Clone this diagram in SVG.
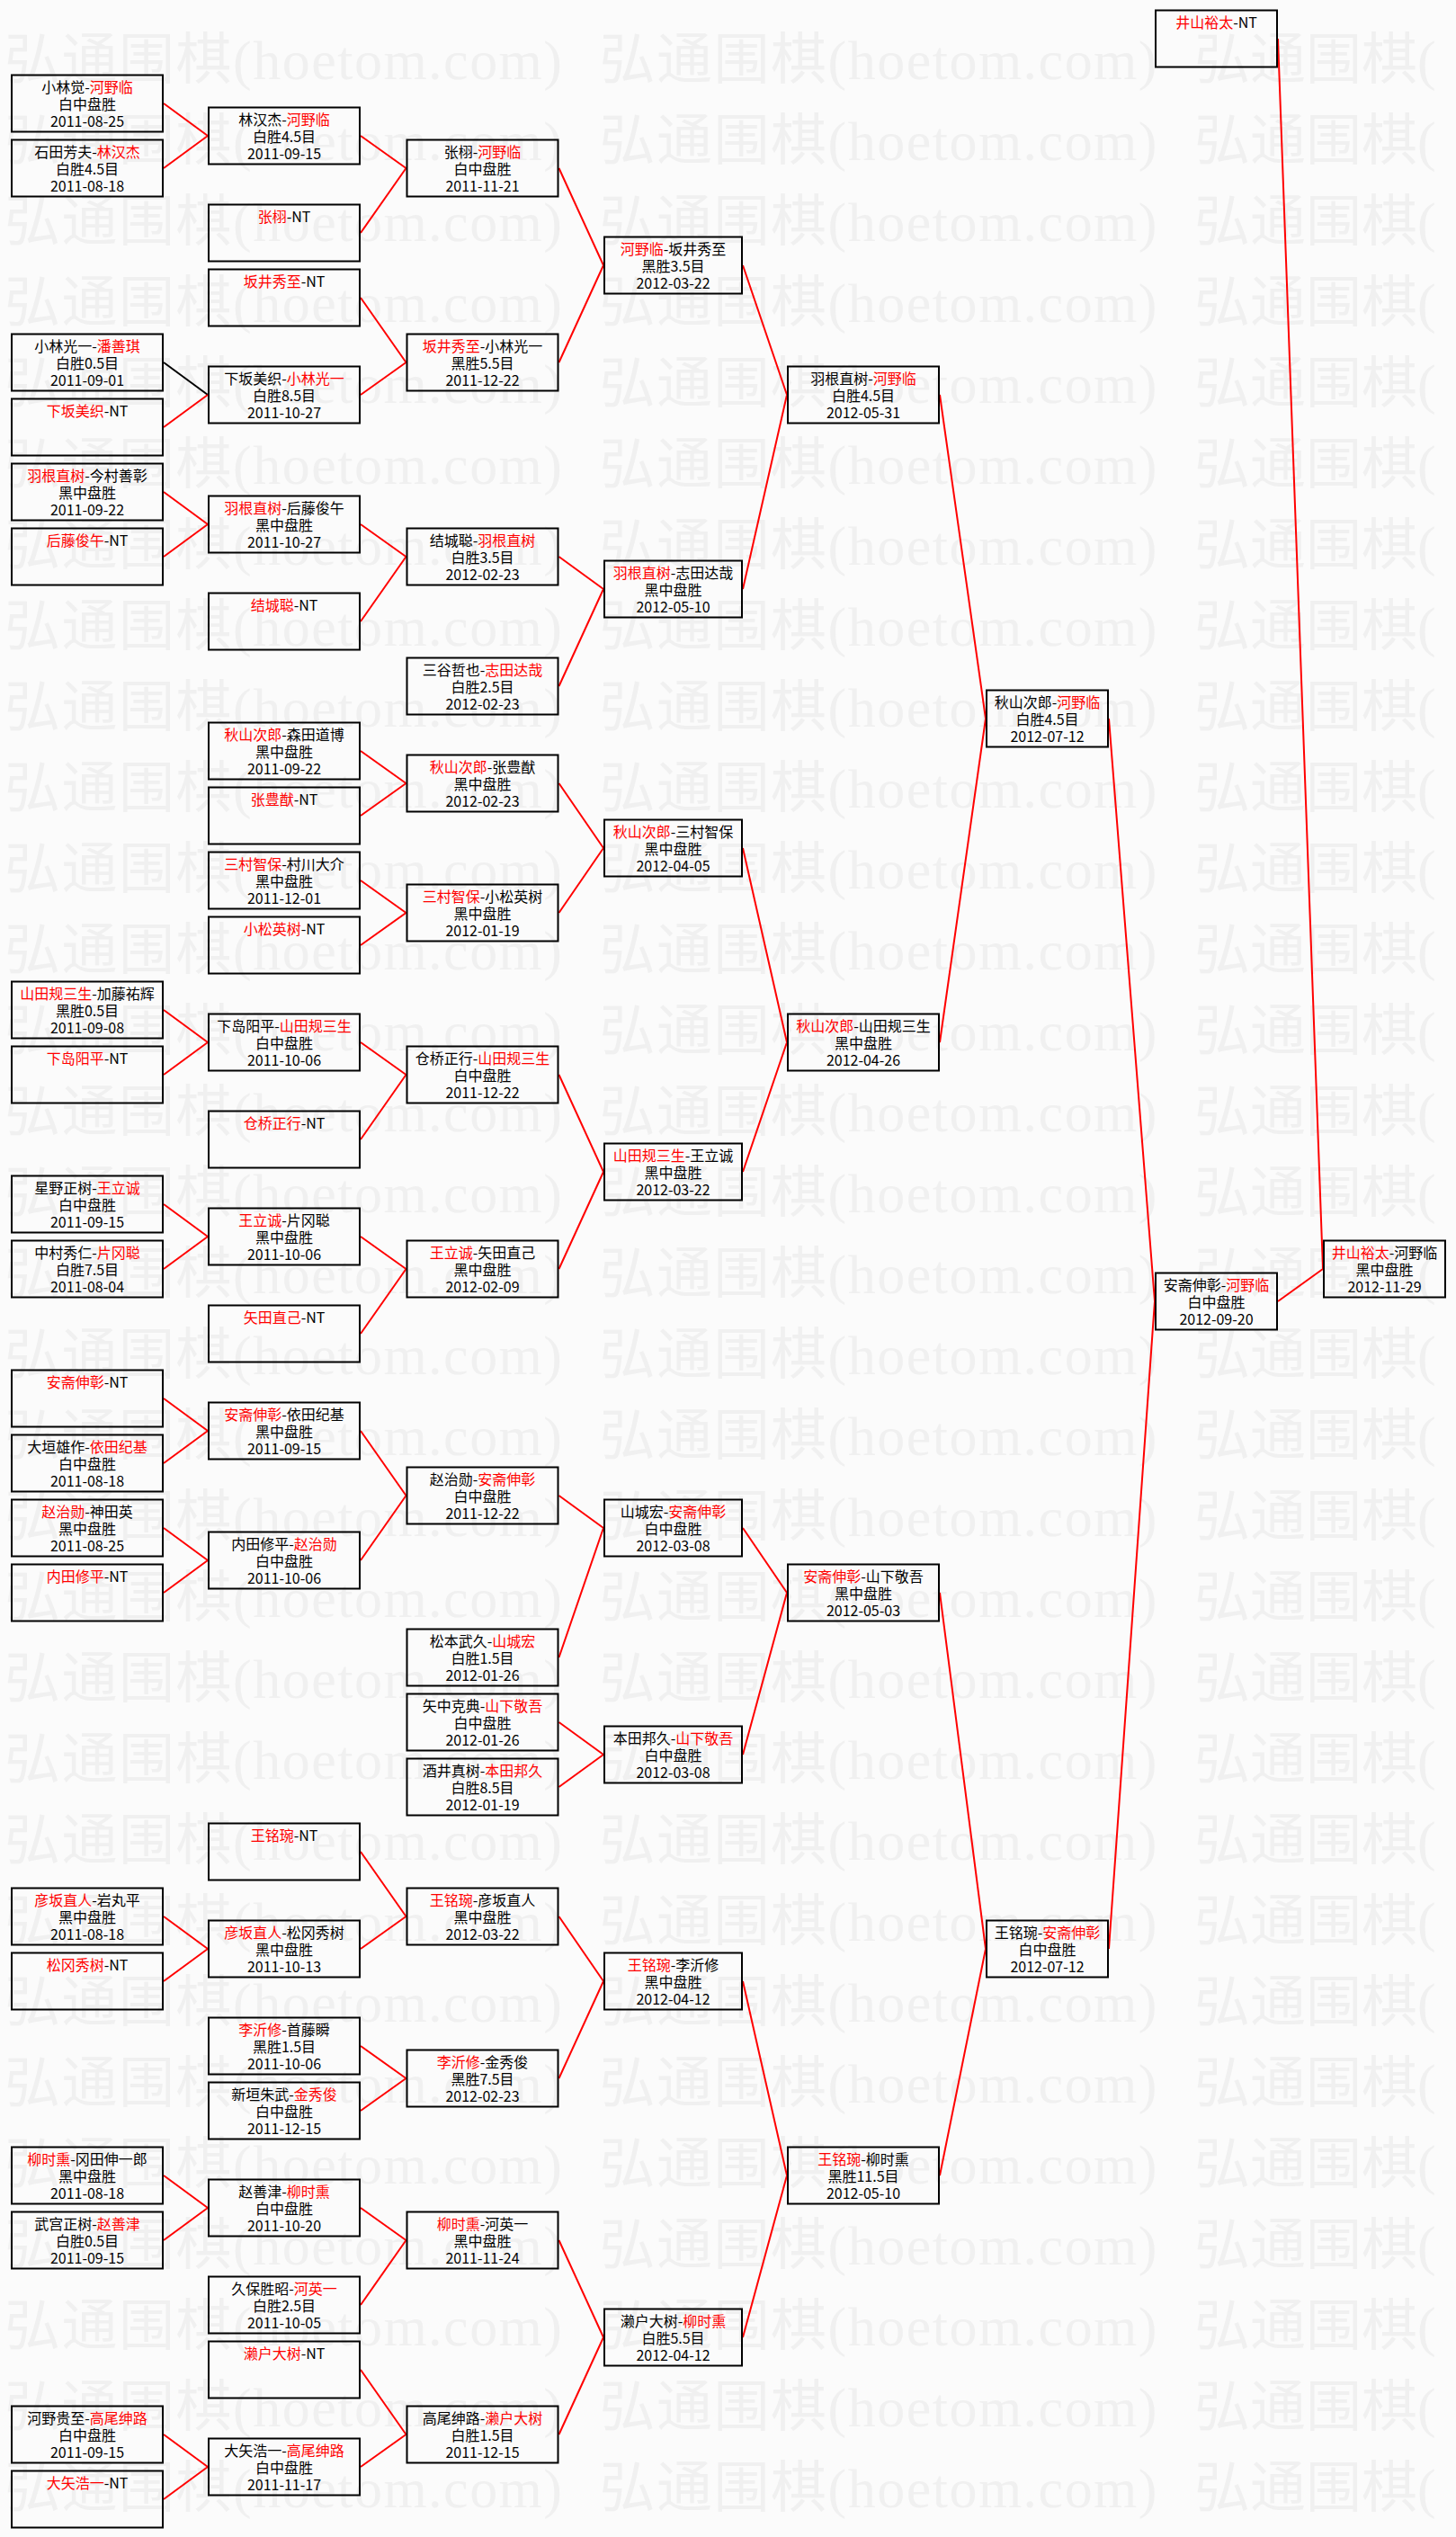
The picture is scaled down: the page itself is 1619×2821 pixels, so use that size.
<svg xmlns="http://www.w3.org/2000/svg" width="1619" height="2821" viewBox="0 0 1619 2821">
<style>
.bg{fill:#fbfbfb}
.wm{font-family:"Liberation Serif","Noto Sans CJK SC",serif;font-size:62px;fill:#f0f0f0;dominant-baseline:central}
.b{fill:none;stroke:#000;stroke-width:2}
.t{font-family:"Noto Sans CJK SC",sans-serif;font-size:16px;fill:#000;text-anchor:middle}
.r{fill:#ff0000}
.c{stroke:#ff0000;stroke-width:2;fill:none}
.k{stroke:#000}
</style>
<rect class="bg" x="0" y="0" width="1619" height="2821"/>
<g id="watermark">
<text class="wm" x="5" y="67" textLength="620">弘通围棋(hoetom.com)</text><text class="wm" x="666.5" y="67" textLength="620">弘通围棋(hoetom.com)</text><text class="wm" x="1328" y="67">弘通围棋(</text>
<text class="wm" x="5" y="157" textLength="620">弘通围棋(hoetom.com)</text><text class="wm" x="666.5" y="157" textLength="620">弘通围棋(hoetom.com)</text><text class="wm" x="1328" y="157">弘通围棋(</text>
<text class="wm" x="5" y="247" textLength="620">弘通围棋(hoetom.com)</text><text class="wm" x="666.5" y="247" textLength="620">弘通围棋(hoetom.com)</text><text class="wm" x="1328" y="247">弘通围棋(</text>
<text class="wm" x="5" y="337" textLength="620">弘通围棋(hoetom.com)</text><text class="wm" x="666.5" y="337" textLength="620">弘通围棋(hoetom.com)</text><text class="wm" x="1328" y="337">弘通围棋(</text>
<text class="wm" x="5" y="427" textLength="620">弘通围棋(hoetom.com)</text><text class="wm" x="666.5" y="427" textLength="620">弘通围棋(hoetom.com)</text><text class="wm" x="1328" y="427">弘通围棋(</text>
<text class="wm" x="5" y="517" textLength="620">弘通围棋(hoetom.com)</text><text class="wm" x="666.5" y="517" textLength="620">弘通围棋(hoetom.com)</text><text class="wm" x="1328" y="517">弘通围棋(</text>
<text class="wm" x="5" y="607" textLength="620">弘通围棋(hoetom.com)</text><text class="wm" x="666.5" y="607" textLength="620">弘通围棋(hoetom.com)</text><text class="wm" x="1328" y="607">弘通围棋(</text>
<text class="wm" x="5" y="697" textLength="620">弘通围棋(hoetom.com)</text><text class="wm" x="666.5" y="697" textLength="620">弘通围棋(hoetom.com)</text><text class="wm" x="1328" y="697">弘通围棋(</text>
<text class="wm" x="5" y="787" textLength="620">弘通围棋(hoetom.com)</text><text class="wm" x="666.5" y="787" textLength="620">弘通围棋(hoetom.com)</text><text class="wm" x="1328" y="787">弘通围棋(</text>
<text class="wm" x="5" y="877" textLength="620">弘通围棋(hoetom.com)</text><text class="wm" x="666.5" y="877" textLength="620">弘通围棋(hoetom.com)</text><text class="wm" x="1328" y="877">弘通围棋(</text>
<text class="wm" x="5" y="967" textLength="620">弘通围棋(hoetom.com)</text><text class="wm" x="666.5" y="967" textLength="620">弘通围棋(hoetom.com)</text><text class="wm" x="1328" y="967">弘通围棋(</text>
<text class="wm" x="5" y="1057" textLength="620">弘通围棋(hoetom.com)</text><text class="wm" x="666.5" y="1057" textLength="620">弘通围棋(hoetom.com)</text><text class="wm" x="1328" y="1057">弘通围棋(</text>
<text class="wm" x="5" y="1147" textLength="620">弘通围棋(hoetom.com)</text><text class="wm" x="666.5" y="1147" textLength="620">弘通围棋(hoetom.com)</text><text class="wm" x="1328" y="1147">弘通围棋(</text>
<text class="wm" x="5" y="1237" textLength="620">弘通围棋(hoetom.com)</text><text class="wm" x="666.5" y="1237" textLength="620">弘通围棋(hoetom.com)</text><text class="wm" x="1328" y="1237">弘通围棋(</text>
<text class="wm" x="5" y="1327" textLength="620">弘通围棋(hoetom.com)</text><text class="wm" x="666.5" y="1327" textLength="620">弘通围棋(hoetom.com)</text><text class="wm" x="1328" y="1327">弘通围棋(</text>
<text class="wm" x="5" y="1417" textLength="620">弘通围棋(hoetom.com)</text><text class="wm" x="666.5" y="1417" textLength="620">弘通围棋(hoetom.com)</text><text class="wm" x="1328" y="1417">弘通围棋(</text>
<text class="wm" x="5" y="1507" textLength="620">弘通围棋(hoetom.com)</text><text class="wm" x="666.5" y="1507" textLength="620">弘通围棋(hoetom.com)</text><text class="wm" x="1328" y="1507">弘通围棋(</text>
<text class="wm" x="5" y="1597" textLength="620">弘通围棋(hoetom.com)</text><text class="wm" x="666.5" y="1597" textLength="620">弘通围棋(hoetom.com)</text><text class="wm" x="1328" y="1597">弘通围棋(</text>
<text class="wm" x="5" y="1687" textLength="620">弘通围棋(hoetom.com)</text><text class="wm" x="666.5" y="1687" textLength="620">弘通围棋(hoetom.com)</text><text class="wm" x="1328" y="1687">弘通围棋(</text>
<text class="wm" x="5" y="1777" textLength="620">弘通围棋(hoetom.com)</text><text class="wm" x="666.5" y="1777" textLength="620">弘通围棋(hoetom.com)</text><text class="wm" x="1328" y="1777">弘通围棋(</text>
<text class="wm" x="5" y="1867" textLength="620">弘通围棋(hoetom.com)</text><text class="wm" x="666.5" y="1867" textLength="620">弘通围棋(hoetom.com)</text><text class="wm" x="1328" y="1867">弘通围棋(</text>
<text class="wm" x="5" y="1957" textLength="620">弘通围棋(hoetom.com)</text><text class="wm" x="666.5" y="1957" textLength="620">弘通围棋(hoetom.com)</text><text class="wm" x="1328" y="1957">弘通围棋(</text>
<text class="wm" x="5" y="2047" textLength="620">弘通围棋(hoetom.com)</text><text class="wm" x="666.5" y="2047" textLength="620">弘通围棋(hoetom.com)</text><text class="wm" x="1328" y="2047">弘通围棋(</text>
<text class="wm" x="5" y="2137" textLength="620">弘通围棋(hoetom.com)</text><text class="wm" x="666.5" y="2137" textLength="620">弘通围棋(hoetom.com)</text><text class="wm" x="1328" y="2137">弘通围棋(</text>
<text class="wm" x="5" y="2227" textLength="620">弘通围棋(hoetom.com)</text><text class="wm" x="666.5" y="2227" textLength="620">弘通围棋(hoetom.com)</text><text class="wm" x="1328" y="2227">弘通围棋(</text>
<text class="wm" x="5" y="2317" textLength="620">弘通围棋(hoetom.com)</text><text class="wm" x="666.5" y="2317" textLength="620">弘通围棋(hoetom.com)</text><text class="wm" x="1328" y="2317">弘通围棋(</text>
<text class="wm" x="5" y="2407" textLength="620">弘通围棋(hoetom.com)</text><text class="wm" x="666.5" y="2407" textLength="620">弘通围棋(hoetom.com)</text><text class="wm" x="1328" y="2407">弘通围棋(</text>
<text class="wm" x="5" y="2497" textLength="620">弘通围棋(hoetom.com)</text><text class="wm" x="666.5" y="2497" textLength="620">弘通围棋(hoetom.com)</text><text class="wm" x="1328" y="2497">弘通围棋(</text>
<text class="wm" x="5" y="2587" textLength="620">弘通围棋(hoetom.com)</text><text class="wm" x="666.5" y="2587" textLength="620">弘通围棋(hoetom.com)</text><text class="wm" x="1328" y="2587">弘通围棋(</text>
<text class="wm" x="5" y="2677" textLength="620">弘通围棋(hoetom.com)</text><text class="wm" x="666.5" y="2677" textLength="620">弘通围棋(hoetom.com)</text><text class="wm" x="1328" y="2677">弘通围棋(</text>
<text class="wm" x="5" y="2767" textLength="620">弘通围棋(hoetom.com)</text><text class="wm" x="666.5" y="2767" textLength="620">弘通围棋(hoetom.com)</text><text class="wm" x="1328" y="2767">弘通围棋(</text>
</g>
<g id="connectors">
<path class="c" d="M182 115L231 151M182 187L231 151M401 151L451.5 187M401 259L451.5 187M621.5 187L671 295M621.5 403L671 295M401 331L451.5 403M401 439L451.5 403"/>
<path class="c k" d="M182 403L231 439"/>
<path class="c" d="M182 475L231 439M182 547L231 583M182 619L231 583M401 583L451.5 619M401 691L451.5 619M621.5 619L671 655M621.5 763L671 655M826 295L875 439M826 655L875 439M1045 439L1096 799M1045 1159L1096 799"/>
<path class="c" d="M401 835L451.5 871M401 907L451.5 871M401 979L451.5 1015M401 1051L451.5 1015M621.5 871L671 943M621.5 1015L671 943M826 943L875 1159M826 1303L875 1159M182 1123L231 1159M182 1195L231 1159M401 1159L451.5 1195M401 1267L451.5 1195M621.5 1195L671 1303M621.5 1411L671 1303M182 1339L231 1375M182 1411L231 1375M401 1375L451.5 1411M401 1483L451.5 1411"/>
<path class="c" d="M182 1555L231 1591M182 1627L231 1591M182 1699L231 1735M182 1771L231 1735M401 1591L451.5 1663M401 1735L451.5 1663M621.5 1663L671 1699M621.5 1843L671 1699M621.5 1915L671 1951M621.5 1987L671 1951M826 1699L875 1771M826 1951L875 1771M1045 1771L1096 2167M1045 2419L1096 2167"/>
<path class="c" d="M401 2059L451.5 2131M401 2167L451.5 2131M182 2131L231 2167M182 2203L231 2167M401 2275L451.5 2311M401 2347L451.5 2311M621.5 2131L671 2203M621.5 2311L671 2203M826 2203L875 2419M826 2599L875 2419M182 2419L231 2455M182 2491L231 2455M401 2455L451.5 2491M401 2563L451.5 2491M182 2707L231 2743M182 2779L231 2743M401 2635L451.5 2707M401 2743L451.5 2707M621.5 2491L671 2599M621.5 2707L671 2599"/>
<path class="c" d="M1233 799L1284 1447M1233 2167L1284 1447M1421 43L1471 1411M1421 1447L1471 1411"/>
</g>
<!-- column 1 -->
<g id="c1-k0" transform="translate(12,82.5)"><rect class="b" x="1" y="1" width="168" height="63"/><text class="t" x="85" y="20">小林觉-<tspan class="r">河野临</tspan></text><text class="t" x="85" y="39.5">白中盘胜</text><text class="t" x="85" y="58">2011-08-25</text></g>
<g id="c1-k2" transform="translate(12,154.5)"><rect class="b" x="1" y="1" width="168" height="63"/><text class="t" x="85" y="20">石田芳夫-<tspan class="r">林汉杰</tspan></text><text class="t" x="85" y="39.5">白胜4.5目</text><text class="t" x="85" y="58">2011-08-18</text></g>
<g id="c1-k8" transform="translate(12,370.5)"><rect class="b" x="1" y="1" width="168" height="63"/><text class="t" x="85" y="20">小林光一-<tspan class="r">潘善琪</tspan></text><text class="t" x="85" y="39.5">白胜0.5目</text><text class="t" x="85" y="58">2011-09-01</text></g>
<g id="c1-k10" transform="translate(12,442.5)"><rect class="b" x="1" y="1" width="168" height="63"/><text class="t" x="85" y="20"><tspan class="r">下坂美织</tspan>-NT</text></g>
<g id="c1-k12" transform="translate(12,514.5)"><rect class="b" x="1" y="1" width="168" height="63"/><text class="t" x="85" y="20"><tspan class="r">羽根直树</tspan>-今村善彰</text><text class="t" x="85" y="39.5">黑中盘胜</text><text class="t" x="85" y="58">2011-09-22</text></g>
<g id="c1-k14" transform="translate(12,586.5)"><rect class="b" x="1" y="1" width="168" height="63"/><text class="t" x="85" y="20"><tspan class="r">后藤俊午</tspan>-NT</text></g>
<g id="c1-k28" transform="translate(12,1090.5)"><rect class="b" x="1" y="1" width="168" height="63"/><text class="t" x="85" y="20"><tspan class="r">山田规三生</tspan>-加藤祐辉</text><text class="t" x="85" y="39.5">黑胜0.5目</text><text class="t" x="85" y="58">2011-09-08</text></g>
<g id="c1-k30" transform="translate(12,1162.5)"><rect class="b" x="1" y="1" width="168" height="63"/><text class="t" x="85" y="20"><tspan class="r">下岛阳平</tspan>-NT</text></g>
<g id="c1-k34" transform="translate(12,1306.5)"><rect class="b" x="1" y="1" width="168" height="63"/><text class="t" x="85" y="20">星野正树-<tspan class="r">王立诚</tspan></text><text class="t" x="85" y="39.5">白中盘胜</text><text class="t" x="85" y="58">2011-09-15</text></g>
<g id="c1-k36" transform="translate(12,1378.5)"><rect class="b" x="1" y="1" width="168" height="63"/><text class="t" x="85" y="20">中村秀仁-<tspan class="r">片冈聪</tspan></text><text class="t" x="85" y="39.5">白胜7.5目</text><text class="t" x="85" y="58">2011-08-04</text></g>
<g id="c1-k40" transform="translate(12,1522.5)"><rect class="b" x="1" y="1" width="168" height="63"/><text class="t" x="85" y="20"><tspan class="r">安斋伸彰</tspan>-NT</text></g>
<g id="c1-k42" transform="translate(12,1594.5)"><rect class="b" x="1" y="1" width="168" height="63"/><text class="t" x="85" y="20">大垣雄作-<tspan class="r">依田纪基</tspan></text><text class="t" x="85" y="39.5">白中盘胜</text><text class="t" x="85" y="58">2011-08-18</text></g>
<g id="c1-k44" transform="translate(12,1666.5)"><rect class="b" x="1" y="1" width="168" height="63"/><text class="t" x="85" y="20"><tspan class="r">赵治勋</tspan>-神田英</text><text class="t" x="85" y="39.5">黑中盘胜</text><text class="t" x="85" y="58">2011-08-25</text></g>
<g id="c1-k46" transform="translate(12,1738.5)"><rect class="b" x="1" y="1" width="168" height="63"/><text class="t" x="85" y="20"><tspan class="r">内田修平</tspan>-NT</text></g>
<g id="c1-k56" transform="translate(12,2098.5)"><rect class="b" x="1" y="1" width="168" height="63"/><text class="t" x="85" y="20"><tspan class="r">彦坂直人</tspan>-岩丸平</text><text class="t" x="85" y="39.5">黑中盘胜</text><text class="t" x="85" y="58">2011-08-18</text></g>
<g id="c1-k58" transform="translate(12,2170.5)"><rect class="b" x="1" y="1" width="168" height="63"/><text class="t" x="85" y="20"><tspan class="r">松冈秀树</tspan>-NT</text></g>
<g id="c1-k64" transform="translate(12,2386.5)"><rect class="b" x="1" y="1" width="168" height="63"/><text class="t" x="85" y="20"><tspan class="r">柳时熏</tspan>-冈田伸一郎</text><text class="t" x="85" y="39.5">黑中盘胜</text><text class="t" x="85" y="58">2011-08-18</text></g>
<g id="c1-k66" transform="translate(12,2458.5)"><rect class="b" x="1" y="1" width="168" height="63"/><text class="t" x="85" y="20">武宫正树-<tspan class="r">赵善津</tspan></text><text class="t" x="85" y="39.5">白胜0.5目</text><text class="t" x="85" y="58">2011-09-15</text></g>
<g id="c1-k72" transform="translate(12,2674.5)"><rect class="b" x="1" y="1" width="168" height="63"/><text class="t" x="85" y="20">河野贵至-<tspan class="r">高尾绅路</tspan></text><text class="t" x="85" y="39.5">白中盘胜</text><text class="t" x="85" y="58">2011-09-15</text></g>
<g id="c1-k74" transform="translate(12,2746.5)"><rect class="b" x="1" y="1" width="168" height="63"/><text class="t" x="85" y="20"><tspan class="r">大矢浩一</tspan>-NT</text></g>
<!-- column 2 -->
<g id="c2-k1" transform="translate(231,118.5)"><rect class="b" x="1" y="1" width="168" height="63"/><text class="t" x="85" y="20">林汉杰-<tspan class="r">河野临</tspan></text><text class="t" x="85" y="39.5">白胜4.5目</text><text class="t" x="85" y="58">2011-09-15</text></g>
<g id="c2-k4" transform="translate(231,226.5)"><rect class="b" x="1" y="1" width="168" height="63"/><text class="t" x="85" y="20"><tspan class="r">张栩</tspan>-NT</text></g>
<g id="c2-k6" transform="translate(231,298.5)"><rect class="b" x="1" y="1" width="168" height="63"/><text class="t" x="85" y="20"><tspan class="r">坂井秀至</tspan>-NT</text></g>
<g id="c2-k9" transform="translate(231,406.5)"><rect class="b" x="1" y="1" width="168" height="63"/><text class="t" x="85" y="20">下坂美织-<tspan class="r">小林光一</tspan></text><text class="t" x="85" y="39.5">白胜8.5目</text><text class="t" x="85" y="58">2011-10-27</text></g>
<g id="c2-k13" transform="translate(231,550.5)"><rect class="b" x="1" y="1" width="168" height="63"/><text class="t" x="85" y="20"><tspan class="r">羽根直树</tspan>-后藤俊午</text><text class="t" x="85" y="39.5">黑中盘胜</text><text class="t" x="85" y="58">2011-10-27</text></g>
<g id="c2-k16" transform="translate(231,658.5)"><rect class="b" x="1" y="1" width="168" height="63"/><text class="t" x="85" y="20"><tspan class="r">结城聪</tspan>-NT</text></g>
<g id="c2-k20" transform="translate(231,802.5)"><rect class="b" x="1" y="1" width="168" height="63"/><text class="t" x="85" y="20"><tspan class="r">秋山次郎</tspan>-森田道博</text><text class="t" x="85" y="39.5">黑中盘胜</text><text class="t" x="85" y="58">2011-09-22</text></g>
<g id="c2-k22" transform="translate(231,874.5)"><rect class="b" x="1" y="1" width="168" height="63"/><text class="t" x="85" y="20"><tspan class="r">张豊猷</tspan>-NT</text></g>
<g id="c2-k24" transform="translate(231,946.5)"><rect class="b" x="1" y="1" width="168" height="63"/><text class="t" x="85" y="20"><tspan class="r">三村智保</tspan>-村川大介</text><text class="t" x="85" y="39.5">黑中盘胜</text><text class="t" x="85" y="58">2011-12-01</text></g>
<g id="c2-k26" transform="translate(231,1018.5)"><rect class="b" x="1" y="1" width="168" height="63"/><text class="t" x="85" y="20"><tspan class="r">小松英树</tspan>-NT</text></g>
<g id="c2-k29" transform="translate(231,1126.5)"><rect class="b" x="1" y="1" width="168" height="63"/><text class="t" x="85" y="20">下岛阳平-<tspan class="r">山田规三生</tspan></text><text class="t" x="85" y="39.5">白中盘胜</text><text class="t" x="85" y="58">2011-10-06</text></g>
<g id="c2-k32" transform="translate(231,1234.5)"><rect class="b" x="1" y="1" width="168" height="63"/><text class="t" x="85" y="20"><tspan class="r">仓桥正行</tspan>-NT</text></g>
<g id="c2-k35" transform="translate(231,1342.5)"><rect class="b" x="1" y="1" width="168" height="63"/><text class="t" x="85" y="20"><tspan class="r">王立诚</tspan>-片冈聪</text><text class="t" x="85" y="39.5">黑中盘胜</text><text class="t" x="85" y="58">2011-10-06</text></g>
<g id="c2-k38" transform="translate(231,1450.5)"><rect class="b" x="1" y="1" width="168" height="63"/><text class="t" x="85" y="20"><tspan class="r">矢田直己</tspan>-NT</text></g>
<g id="c2-k41" transform="translate(231,1558.5)"><rect class="b" x="1" y="1" width="168" height="63"/><text class="t" x="85" y="20"><tspan class="r">安斋伸彰</tspan>-依田纪基</text><text class="t" x="85" y="39.5">黑中盘胜</text><text class="t" x="85" y="58">2011-09-15</text></g>
<g id="c2-k45" transform="translate(231,1702.5)"><rect class="b" x="1" y="1" width="168" height="63"/><text class="t" x="85" y="20">内田修平-<tspan class="r">赵治勋</tspan></text><text class="t" x="85" y="39.5">白中盘胜</text><text class="t" x="85" y="58">2011-10-06</text></g>
<g id="c2-k54" transform="translate(231,2026.5)"><rect class="b" x="1" y="1" width="168" height="63"/><text class="t" x="85" y="20"><tspan class="r">王铭琬</tspan>-NT</text></g>
<g id="c2-k57" transform="translate(231,2134.5)"><rect class="b" x="1" y="1" width="168" height="63"/><text class="t" x="85" y="20"><tspan class="r">彦坂直人</tspan>-松冈秀树</text><text class="t" x="85" y="39.5">黑中盘胜</text><text class="t" x="85" y="58">2011-10-13</text></g>
<g id="c2-k60" transform="translate(231,2242.5)"><rect class="b" x="1" y="1" width="168" height="63"/><text class="t" x="85" y="20"><tspan class="r">李沂修</tspan>-首藤瞬</text><text class="t" x="85" y="39.5">黑胜1.5目</text><text class="t" x="85" y="58">2011-10-06</text></g>
<g id="c2-k62" transform="translate(231,2314.5)"><rect class="b" x="1" y="1" width="168" height="63"/><text class="t" x="85" y="20">新垣朱武-<tspan class="r">金秀俊</tspan></text><text class="t" x="85" y="39.5">白中盘胜</text><text class="t" x="85" y="58">2011-12-15</text></g>
<g id="c2-k65" transform="translate(231,2422.5)"><rect class="b" x="1" y="1" width="168" height="63"/><text class="t" x="85" y="20">赵善津-<tspan class="r">柳时熏</tspan></text><text class="t" x="85" y="39.5">白中盘胜</text><text class="t" x="85" y="58">2011-10-20</text></g>
<g id="c2-k68" transform="translate(231,2530.5)"><rect class="b" x="1" y="1" width="168" height="63"/><text class="t" x="85" y="20">久保胜昭-<tspan class="r">河英一</tspan></text><text class="t" x="85" y="39.5">白胜2.5目</text><text class="t" x="85" y="58">2011-10-05</text></g>
<g id="c2-k70" transform="translate(231,2602.5)"><rect class="b" x="1" y="1" width="168" height="63"/><text class="t" x="85" y="20"><tspan class="r">濑户大树</tspan>-NT</text></g>
<g id="c2-k73" transform="translate(231,2710.5)"><rect class="b" x="1" y="1" width="168" height="63"/><text class="t" x="85" y="20">大矢浩一-<tspan class="r">高尾绅路</tspan></text><text class="t" x="85" y="39.5">白中盘胜</text><text class="t" x="85" y="58">2011-11-17</text></g>
<!-- column 3 -->
<g id="c3-k2" transform="translate(451.5,154.5)"><rect class="b" x="1" y="1" width="168" height="63"/><text class="t" x="85" y="20">张栩-<tspan class="r">河野临</tspan></text><text class="t" x="85" y="39.5">白中盘胜</text><text class="t" x="85" y="58">2011-11-21</text></g>
<g id="c3-k8" transform="translate(451.5,370.5)"><rect class="b" x="1" y="1" width="168" height="63"/><text class="t" x="85" y="20"><tspan class="r">坂井秀至</tspan>-小林光一</text><text class="t" x="85" y="39.5">黑胜5.5目</text><text class="t" x="85" y="58">2011-12-22</text></g>
<g id="c3-k14" transform="translate(451.5,586.5)"><rect class="b" x="1" y="1" width="168" height="63"/><text class="t" x="85" y="20">结城聪-<tspan class="r">羽根直树</tspan></text><text class="t" x="85" y="39.5">白胜3.5目</text><text class="t" x="85" y="58">2012-02-23</text></g>
<g id="c3-k18" transform="translate(451.5,730.5)"><rect class="b" x="1" y="1" width="168" height="63"/><text class="t" x="85" y="20">三谷哲也-<tspan class="r">志田达哉</tspan></text><text class="t" x="85" y="39.5">白胜2.5目</text><text class="t" x="85" y="58">2012-02-23</text></g>
<g id="c3-k21" transform="translate(451.5,838.5)"><rect class="b" x="1" y="1" width="168" height="63"/><text class="t" x="85" y="20"><tspan class="r">秋山次郎</tspan>-张豊猷</text><text class="t" x="85" y="39.5">黑中盘胜</text><text class="t" x="85" y="58">2012-02-23</text></g>
<g id="c3-k25" transform="translate(451.5,982.5)"><rect class="b" x="1" y="1" width="168" height="63"/><text class="t" x="85" y="20"><tspan class="r">三村智保</tspan>-小松英树</text><text class="t" x="85" y="39.5">黑中盘胜</text><text class="t" x="85" y="58">2012-01-19</text></g>
<g id="c3-k30" transform="translate(451.5,1162.5)"><rect class="b" x="1" y="1" width="168" height="63"/><text class="t" x="85" y="20">仓桥正行-<tspan class="r">山田规三生</tspan></text><text class="t" x="85" y="39.5">白中盘胜</text><text class="t" x="85" y="58">2011-12-22</text></g>
<g id="c3-k36" transform="translate(451.5,1378.5)"><rect class="b" x="1" y="1" width="168" height="63"/><text class="t" x="85" y="20"><tspan class="r">王立诚</tspan>-矢田直己</text><text class="t" x="85" y="39.5">黑中盘胜</text><text class="t" x="85" y="58">2012-02-09</text></g>
<g id="c3-k43" transform="translate(451.5,1630.5)"><rect class="b" x="1" y="1" width="168" height="63"/><text class="t" x="85" y="20">赵治勋-<tspan class="r">安斋伸彰</tspan></text><text class="t" x="85" y="39.5">白中盘胜</text><text class="t" x="85" y="58">2011-12-22</text></g>
<g id="c3-k48" transform="translate(451.5,1810.5)"><rect class="b" x="1" y="1" width="168" height="63"/><text class="t" x="85" y="20">松本武久-<tspan class="r">山城宏</tspan></text><text class="t" x="85" y="39.5">白胜1.5目</text><text class="t" x="85" y="58">2012-01-26</text></g>
<g id="c3-k50" transform="translate(451.5,1882.5)"><rect class="b" x="1" y="1" width="168" height="63"/><text class="t" x="85" y="20">矢中克典-<tspan class="r">山下敬吾</tspan></text><text class="t" x="85" y="39.5">白中盘胜</text><text class="t" x="85" y="58">2012-01-26</text></g>
<g id="c3-k52" transform="translate(451.5,1954.5)"><rect class="b" x="1" y="1" width="168" height="63"/><text class="t" x="85" y="20">酒井真树-<tspan class="r">本田邦久</tspan></text><text class="t" x="85" y="39.5">白胜8.5目</text><text class="t" x="85" y="58">2012-01-19</text></g>
<g id="c3-k56" transform="translate(451.5,2098.5)"><rect class="b" x="1" y="1" width="168" height="63"/><text class="t" x="85" y="20"><tspan class="r">王铭琬</tspan>-彦坂直人</text><text class="t" x="85" y="39.5">黑中盘胜</text><text class="t" x="85" y="58">2012-03-22</text></g>
<g id="c3-k61" transform="translate(451.5,2278.5)"><rect class="b" x="1" y="1" width="168" height="63"/><text class="t" x="85" y="20"><tspan class="r">李沂修</tspan>-金秀俊</text><text class="t" x="85" y="39.5">黑胜7.5目</text><text class="t" x="85" y="58">2012-02-23</text></g>
<g id="c3-k66" transform="translate(451.5,2458.5)"><rect class="b" x="1" y="1" width="168" height="63"/><text class="t" x="85" y="20"><tspan class="r">柳时熏</tspan>-河英一</text><text class="t" x="85" y="39.5">黑中盘胜</text><text class="t" x="85" y="58">2011-11-24</text></g>
<g id="c3-k72" transform="translate(451.5,2674.5)"><rect class="b" x="1" y="1" width="168" height="63"/><text class="t" x="85" y="20">高尾绅路-<tspan class="r">濑户大树</tspan></text><text class="t" x="85" y="39.5">白胜1.5目</text><text class="t" x="85" y="58">2011-12-15</text></g>
<!-- column 4 -->
<g id="c4-k5" transform="translate(671,262.5)"><rect class="b" x="1" y="1" width="153" height="63"/><text class="t" x="77.5" y="20"><tspan class="r">河野临</tspan>-坂井秀至</text><text class="t" x="77.5" y="39.5">黑胜3.5目</text><text class="t" x="77.5" y="58">2012-03-22</text></g>
<g id="c4-k15" transform="translate(671,622.5)"><rect class="b" x="1" y="1" width="153" height="63"/><text class="t" x="77.5" y="20"><tspan class="r">羽根直树</tspan>-志田达哉</text><text class="t" x="77.5" y="39.5">黑中盘胜</text><text class="t" x="77.5" y="58">2012-05-10</text></g>
<g id="c4-k23" transform="translate(671,910.5)"><rect class="b" x="1" y="1" width="153" height="63"/><text class="t" x="77.5" y="20"><tspan class="r">秋山次郎</tspan>-三村智保</text><text class="t" x="77.5" y="39.5">黑中盘胜</text><text class="t" x="77.5" y="58">2012-04-05</text></g>
<g id="c4-k33" transform="translate(671,1270.5)"><rect class="b" x="1" y="1" width="153" height="63"/><text class="t" x="77.5" y="20"><tspan class="r">山田规三生</tspan>-王立诚</text><text class="t" x="77.5" y="39.5">黑中盘胜</text><text class="t" x="77.5" y="58">2012-03-22</text></g>
<g id="c4-k44" transform="translate(671,1666.5)"><rect class="b" x="1" y="1" width="153" height="63"/><text class="t" x="77.5" y="20">山城宏-<tspan class="r">安斋伸彰</tspan></text><text class="t" x="77.5" y="39.5">白中盘胜</text><text class="t" x="77.5" y="58">2012-03-08</text></g>
<g id="c4-k51" transform="translate(671,1918.5)"><rect class="b" x="1" y="1" width="153" height="63"/><text class="t" x="77.5" y="20">本田邦久-<tspan class="r">山下敬吾</tspan></text><text class="t" x="77.5" y="39.5">白中盘胜</text><text class="t" x="77.5" y="58">2012-03-08</text></g>
<g id="c4-k58" transform="translate(671,2170.5)"><rect class="b" x="1" y="1" width="153" height="63"/><text class="t" x="77.5" y="20"><tspan class="r">王铭琬</tspan>-李沂修</text><text class="t" x="77.5" y="39.5">黑中盘胜</text><text class="t" x="77.5" y="58">2012-04-12</text></g>
<g id="c4-k69" transform="translate(671,2566.5)"><rect class="b" x="1" y="1" width="153" height="63"/><text class="t" x="77.5" y="20">濑户大树-<tspan class="r">柳时熏</tspan></text><text class="t" x="77.5" y="39.5">白胜5.5目</text><text class="t" x="77.5" y="58">2012-04-12</text></g>
<!-- column 5 -->
<g id="c5-k9" transform="translate(875,406.5)"><rect class="b" x="1" y="1" width="168" height="63"/><text class="t" x="85" y="20">羽根直树-<tspan class="r">河野临</tspan></text><text class="t" x="85" y="39.5">白胜4.5目</text><text class="t" x="85" y="58">2012-05-31</text></g>
<g id="c5-k29" transform="translate(875,1126.5)"><rect class="b" x="1" y="1" width="168" height="63"/><text class="t" x="85" y="20"><tspan class="r">秋山次郎</tspan>-山田规三生</text><text class="t" x="85" y="39.5">黑中盘胜</text><text class="t" x="85" y="58">2012-04-26</text></g>
<g id="c5-k46" transform="translate(875,1738.5)"><rect class="b" x="1" y="1" width="168" height="63"/><text class="t" x="85" y="20"><tspan class="r">安斋伸彰</tspan>-山下敬吾</text><text class="t" x="85" y="39.5">黑中盘胜</text><text class="t" x="85" y="58">2012-05-03</text></g>
<g id="c5-k64" transform="translate(875,2386.5)"><rect class="b" x="1" y="1" width="168" height="63"/><text class="t" x="85" y="20"><tspan class="r">王铭琬</tspan>-柳时熏</text><text class="t" x="85" y="39.5">黑胜11.5目</text><text class="t" x="85" y="58">2012-05-10</text></g>
<!-- column 6 -->
<g id="c6-k19" transform="translate(1096,766.5)"><rect class="b" x="1" y="1" width="135" height="63"/><text class="t" x="68.5" y="20">秋山次郎-<tspan class="r">河野临</tspan></text><text class="t" x="68.5" y="39.5">白胜4.5目</text><text class="t" x="68.5" y="58">2012-07-12</text></g>
<g id="c6-k57" transform="translate(1096,2134.5)"><rect class="b" x="1" y="1" width="135" height="63"/><text class="t" x="68.5" y="20">王铭琬-<tspan class="r">安斋伸彰</tspan></text><text class="t" x="68.5" y="39.5">白中盘胜</text><text class="t" x="68.5" y="58">2012-07-12</text></g>
<!-- column 7 -->
<g id="c7-top" transform="translate(1284,10.5)"><rect class="b" x="1" y="1" width="135" height="63"/><text class="t" x="68.5" y="20"><tspan class="r">井山裕太</tspan>-NT</text></g>
<g id="c7-k37" transform="translate(1284,1414.5)"><rect class="b" x="1" y="1" width="135" height="63"/><text class="t" x="68.5" y="20">安斋伸彰-<tspan class="r">河野临</tspan></text><text class="t" x="68.5" y="39.5">白中盘胜</text><text class="t" x="68.5" y="58">2012-09-20</text></g>
<!-- column 8 -->
<g id="c8-final" transform="translate(1471,1378.5)"><rect class="b" x="1" y="1" width="135" height="63"/><text class="t" x="68.5" y="20"><tspan class="r">井山裕太</tspan>-河野临</text><text class="t" x="68.5" y="39.5">黑中盘胜</text><text class="t" x="68.5" y="58">2012-11-29</text></g>
</svg>
